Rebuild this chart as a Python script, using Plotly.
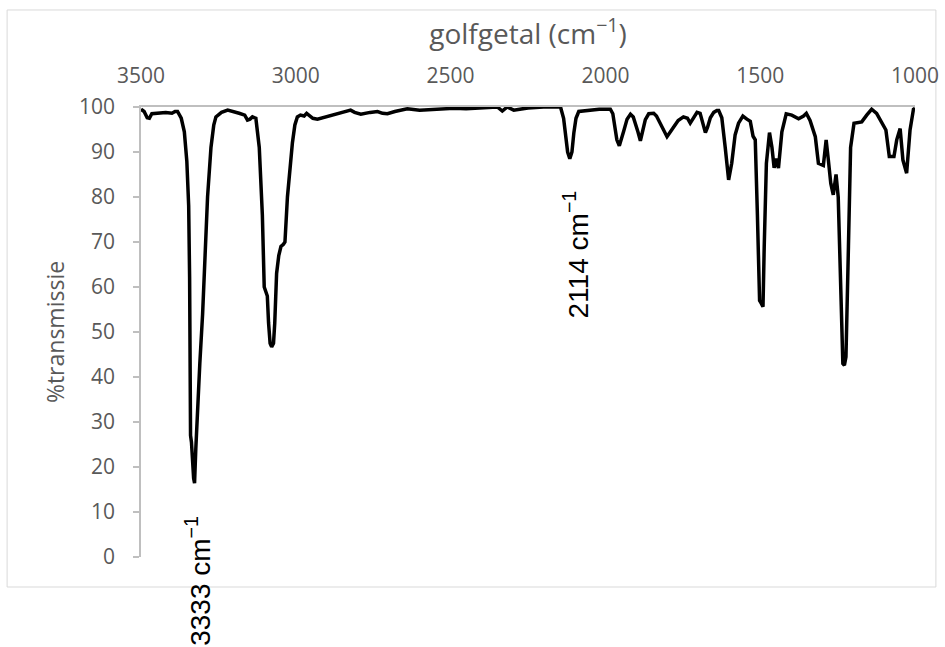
import plotly.graph_objects as go

wavenumber = [3500, 3490, 3480, 3473, 3465, 3440, 3420, 3400, 3390, 3382, 3370, 3360, 3352, 3346, 3343,
              3340, 3337, 3330, 3327, 3323, 3318, 3310, 3301, 3292, 3285, 3274, 3265, 3258, 3240, 3220,
              3200, 3183, 3165, 3156, 3148, 3140, 3129, 3122, 3118, 3108, 3102, 3097, 3092, 3088, 3083,
              3078, 3072, 3068, 3062, 3055, 3048, 3040, 3035, 3027, 3018, 3011, 3003, 2995, 2985, 2973,
              2965, 2957, 2945, 2930, 2910, 2887, 2860, 2840, 2823, 2810, 2790, 2760, 2736, 2720, 2704,
              2680, 2660, 2640, 2600, 2565, 2530, 2489, 2450, 2400, 2360, 2349, 2333, 2317, 2296, 2270,
              2250, 2200, 2167, 2145, 2135, 2129, 2122, 2115, 2108, 2102, 2095, 2086, 2050, 2020, 2000,
              1990, 1984, 1976, 1968, 1963, 1955, 1948, 1941, 1930, 1919, 1910, 1903, 1895, 1887, 1880,
              1871, 1860, 1844, 1835, 1823, 1810, 1801, 1790, 1780, 1765, 1748, 1735, 1726, 1715, 1704,
              1694, 1685, 1677, 1670, 1661, 1650, 1640, 1634, 1624, 1613, 1602, 1592, 1581, 1570, 1556,
              1543, 1532, 1523, 1516, 1509, 1502, 1496, 1491, 1487, 1480, 1470, 1462, 1455, 1448, 1441,
              1430, 1416, 1398, 1376, 1360, 1351, 1339, 1322, 1312, 1296, 1287, 1280, 1272, 1264, 1255,
              1248, 1240, 1233, 1228, 1223, 1215, 1208, 1197, 1185, 1172, 1156, 1140, 1124, 1108, 1094,
              1083, 1068, 1059, 1048, 1039, 1027, 1016, 1005, 1000]

transmission = [99.5, 99.0, 97.6, 97.5, 98.5, 98.7, 98.8, 98.6, 99.0, 99.0, 97.5, 94.5, 88.0, 78.0, 62.0,
                27.0, 25.5, 17.5, 16.4, 24.0, 32.0, 43.0, 54.0, 68.0, 80.0, 91.0, 96.0, 97.8, 98.8, 99.3,
                99.0, 98.6, 98.2, 97.1, 97.3, 97.8, 97.5, 94.0, 91.0, 76.0, 60.0, 59.0, 58.0, 52.0, 47.5,
                46.7, 47.5, 52.0, 63.0, 67.0, 69.0, 69.5, 70.0, 80.0, 88.0, 92.0, 96.0, 97.8, 98.2, 98.0,
                98.6, 98.2, 97.5, 97.3, 97.7, 98.0, 98.6, 99.0, 99.3, 98.8, 98.4, 98.8, 99.0, 98.6, 98.5,
                99.0, 99.3, 99.6, 99.3, 99.4, 99.5, 99.7, 99.6, 99.8, 99.9, 100.0, 99.1, 100.0, 99.3, 99.6,
                99.8, 100.0, 100.1, 100.0, 97.5, 94.5, 90.0, 88.5, 90.0, 94.2, 97.5, 99.0, 99.3, 99.5, 99.5,
                99.6, 99.5, 98.5, 94.0, 92.7, 91.4, 93.3, 94.6, 97.3, 98.4, 97.8, 96.4, 94.5, 92.5, 95.0,
                97.2, 98.5, 98.6, 98.0, 96.4, 94.5, 93.4, 94.5, 95.6, 97.0, 97.8, 97.5, 96.4, 97.5, 98.8,
                98.6, 96.5, 94.3, 95.5, 97.6, 98.8, 99.2, 99.2, 97.6, 91.0, 83.8, 87.5, 93.8, 96.4, 98.0,
                97.3, 96.8, 93.5, 92.7, 76.0, 57.0, 56.3, 55.6, 69.0, 87.5, 94.3, 91.0, 86.5, 88.5, 86.4,
                94.5, 98.5, 98.2, 97.4, 98.0, 98.6, 97.0, 93.4, 87.5, 87.0, 92.7, 88.3, 83.0, 80.5, 85.0,
                80.0, 61.5, 43.0, 42.6, 44.5, 69.0, 91.0, 96.4, 96.6, 96.7, 98.2, 99.5, 98.6, 96.7, 94.9,
                89.0, 89.0, 92.7, 95.2, 88.2, 85.3, 94.9, 99.5, 99.7]

x_ticks = [3500, 3000, 2500, 2000, 1500, 1000]
y_ticks = [0, 10, 20, 30, 40, 50, 60, 70, 80, 90, 100]

peak_labels = ["3333 cm<sup>−1</sup>", "2114 cm<sup>−1</sup>"]
peak_label_x = [3316, 2094]
peak_label_y = [-0.053, 0.673]   # paper fractions of the plot height

gray = "#595959"
axis_gray = "#bfbfbf"

fig = go.Figure()
fig.add_trace(go.Scatter(
    x=wavenumber, y=transmission, mode="lines",
    line=dict(color="black", width=3.5), showlegend=False, hoverinfo="skip",
))

for txt, px, py in zip(peak_labels, peak_label_x, peak_label_y):
    fig.add_annotation(x=px, y=py, xref="x", yref="paper", text=txt, textangle=-90,
                       xanchor="center", yanchor="middle",
                       showarrow=False, font=dict(family="Liberation Sans, Arial", size=28, color="black"))

fig.add_shape(type="rect", xref="paper", yref="paper", x0=-0.173, x1=1.027, y0=-0.0667, y1=1.2156,
              line=dict(color="#d9d9d9", width=1), layer="below")

fig.update_layout(
    width=945, height=647,
    margin=dict(l=141, r=30, t=107, b=90),
    paper_bgcolor="white", plot_bgcolor="white",
    font=dict(family="Open Sans, Noto Sans, sans-serif", color=gray, size=21),
    xaxis=dict(
        range=[3500, 1000], side="top", tickvals=x_ticks, ticks="", automargin=False,
        showline=True, linecolor=axis_gray, linewidth=1.5, showgrid=False, zeroline=False,
        tickfont=dict(size=21, color=gray), ticklabelstandoff=14, ticklabeloverflow="allow",
        title=dict(text="golfgetal (cm<sup>−1</sup>)", font=dict(size=28, color=gray), standoff=8),
    ),
    yaxis=dict(
        range=[0, 100], tickvals=y_ticks, ticks="outside", ticklen=6, tickcolor=axis_gray, tickwidth=1.5,
        showline=True, linecolor=axis_gray, linewidth=1.5, showgrid=False, zeroline=False, automargin=False,
        tickfont=dict(size=21, color=gray), ticklabelstandoff=14,
        title=dict(text="%transmissie", font=dict(size=23, color=gray), standoff=8),
    ),
)

fig.write_html("out.html", config={"displayModeBar": False},
               post_script="document.body.style.margin='0';document.body.style.overflow='hidden';")
